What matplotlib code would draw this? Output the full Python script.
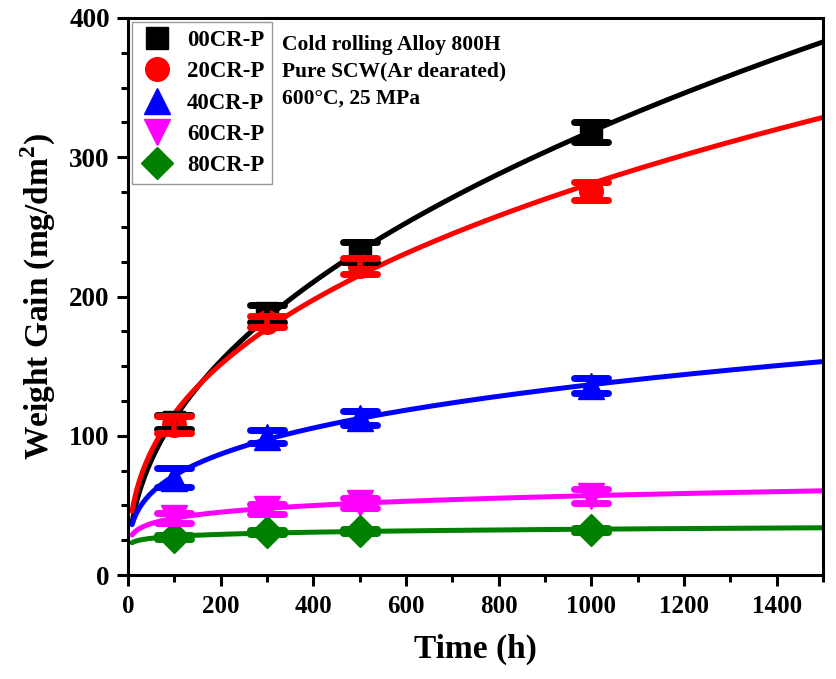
import numpy as np
import matplotlib
matplotlib.use("Agg")
import matplotlib.pyplot as plt
from matplotlib.ticker import MultipleLocator
from matplotlib.markers import MarkerStyle

plt.rcParams['font.family'] = ['Liberation Serif', 'DejaVu Serif']
plt.rcParams['font.weight'] = 'bold'
plt.rcParams['mathtext.fontset'] = 'custom'
plt.rcParams['mathtext.rm'] = 'Liberation Serif:bold'
plt.rcParams['mathtext.bf'] = 'Liberation Serif:bold'

time_h = [100, 300, 500, 1000]
labels = ["00CR-P", "20CR-P", "40CR-P", "60CR-P", "80CR-P"]
gain_00 = [110, 188, 232, 318]
gain_20 = [108, 182, 222, 276]
gain_40 = [70, 99.5, 112.5, 136]
gain_60 = [41, 47.5, 52, 57]
gain_80 = [27.3, 31, 31.5, 32.5]
err_00 = [5, 6, 7, 7]
err_20 = [6, 4, 5.5, 6.5]
err_40 = [7, 5, 5, 5.5]
err_60 = [3.6, 3.5, 3.6, 5]
err_80 = [1.5, 1.5, 1.5, 1.5]
colors = ["black", "red", "blue", "magenta", "green"]
markers = ["s", "o", "^", "v", "D"]
msizes = [16, 17, 19, 19, 16.5]

series = [gain_00, gain_20, gain_40, gain_60, gain_80]
errors = [err_00, err_20, err_40, err_60, err_80]

fig = plt.figure(figsize=(8.36, 6.79), dpi=100)
ax = fig.add_axes([0.153, 0.153, 0.8315, 0.8205])

t_fit = np.linspace(9, 1500, 400)
t_arr = np.asarray(time_h, dtype=float)
cap_marker = MarkerStyle('_', capstyle='round')
handles = []
for g, e, c, m, ms, lab in zip(series, errors, colors, markers, msizes, labels):
    y = np.asarray(g, dtype=float)
    # least-squares power-law fit y = a * t^n to the data points
    best = None
    for n in np.linspace(0.01, 1.0, 991):
        tn = t_arr ** n
        a = np.sum(y * tn) / np.sum(tn * tn)
        sse = np.sum((y - a * tn) ** 2)
        if best is None or sse < best[0]:
            best = (sse, a, n)
    _, a, n = best
    ax.plot(t_fit, a * t_fit ** n, color=c, lw=3.6, zorder=2,
            solid_capstyle='round')
    h, = ax.plot(time_h, g, linestyle='none', marker=m, color=c,
                 markersize=ms, zorder=3, label=lab)
    handles.append(h)
    eb = ax.errorbar(time_h, g, yerr=e, fmt='none', ecolor=c, elinewidth=4,
                     capsize=12, capthick=5, zorder=4)
    for cl in eb[1]:
        cl.set_marker(cap_marker)

ax.set_xlim(0, 1500)
ax.set_ylim(0, 400)
ax.xaxis.set_major_locator(MultipleLocator(200))
ax.xaxis.set_minor_locator(MultipleLocator(100))
ax.yaxis.set_major_locator(MultipleLocator(100))
ax.yaxis.set_minor_locator(MultipleLocator(25))
ax.tick_params(which='both', direction='out', width=2.2, top=False, right=False)
ax.tick_params(axis='x', labelsize=18, pad=6)
ax.tick_params(axis='y', labelsize=19.5, pad=5)
ax.tick_params(which='major', length=8)
ax.tick_params(which='minor', length=5)
for sp in ax.spines.values():
    sp.set_linewidth(2.2)
for lbl in ax.get_xticklabels() + ax.get_yticklabels():
    lbl.set_fontweight('bold')

ax.set_xlabel("Time (h)", fontsize=24, fontweight='bold', labelpad=12)
ax.set_ylabel(r"Weight Gain (mg/dm$^{\mathbf{2}}$)", fontsize=24,
              fontweight='bold', labelpad=8)

leg = ax.legend(handles=handles, loc='upper left', bbox_to_anchor=(0.006, 0.993),
                frameon=True, fancybox=False, edgecolor='gray',
                handletextpad=0.55, labelspacing=0.45, borderpad=0.35,
                handlelength=1.5, borderaxespad=0,
                prop={'weight': 'bold', 'size': 16.5})
leg.get_frame().set_linewidth(1)

ax.text(0.222, 0.97, "Cold rolling Alloy 800H\nPure SCW(Ar dearated)\n600\u00b0C, 25 MPa",
        transform=ax.transAxes, fontsize=15.5, fontweight='bold', va='top',
        ha='left', linespacing=1.45)

fig.savefig("out.png", dpi=100)
